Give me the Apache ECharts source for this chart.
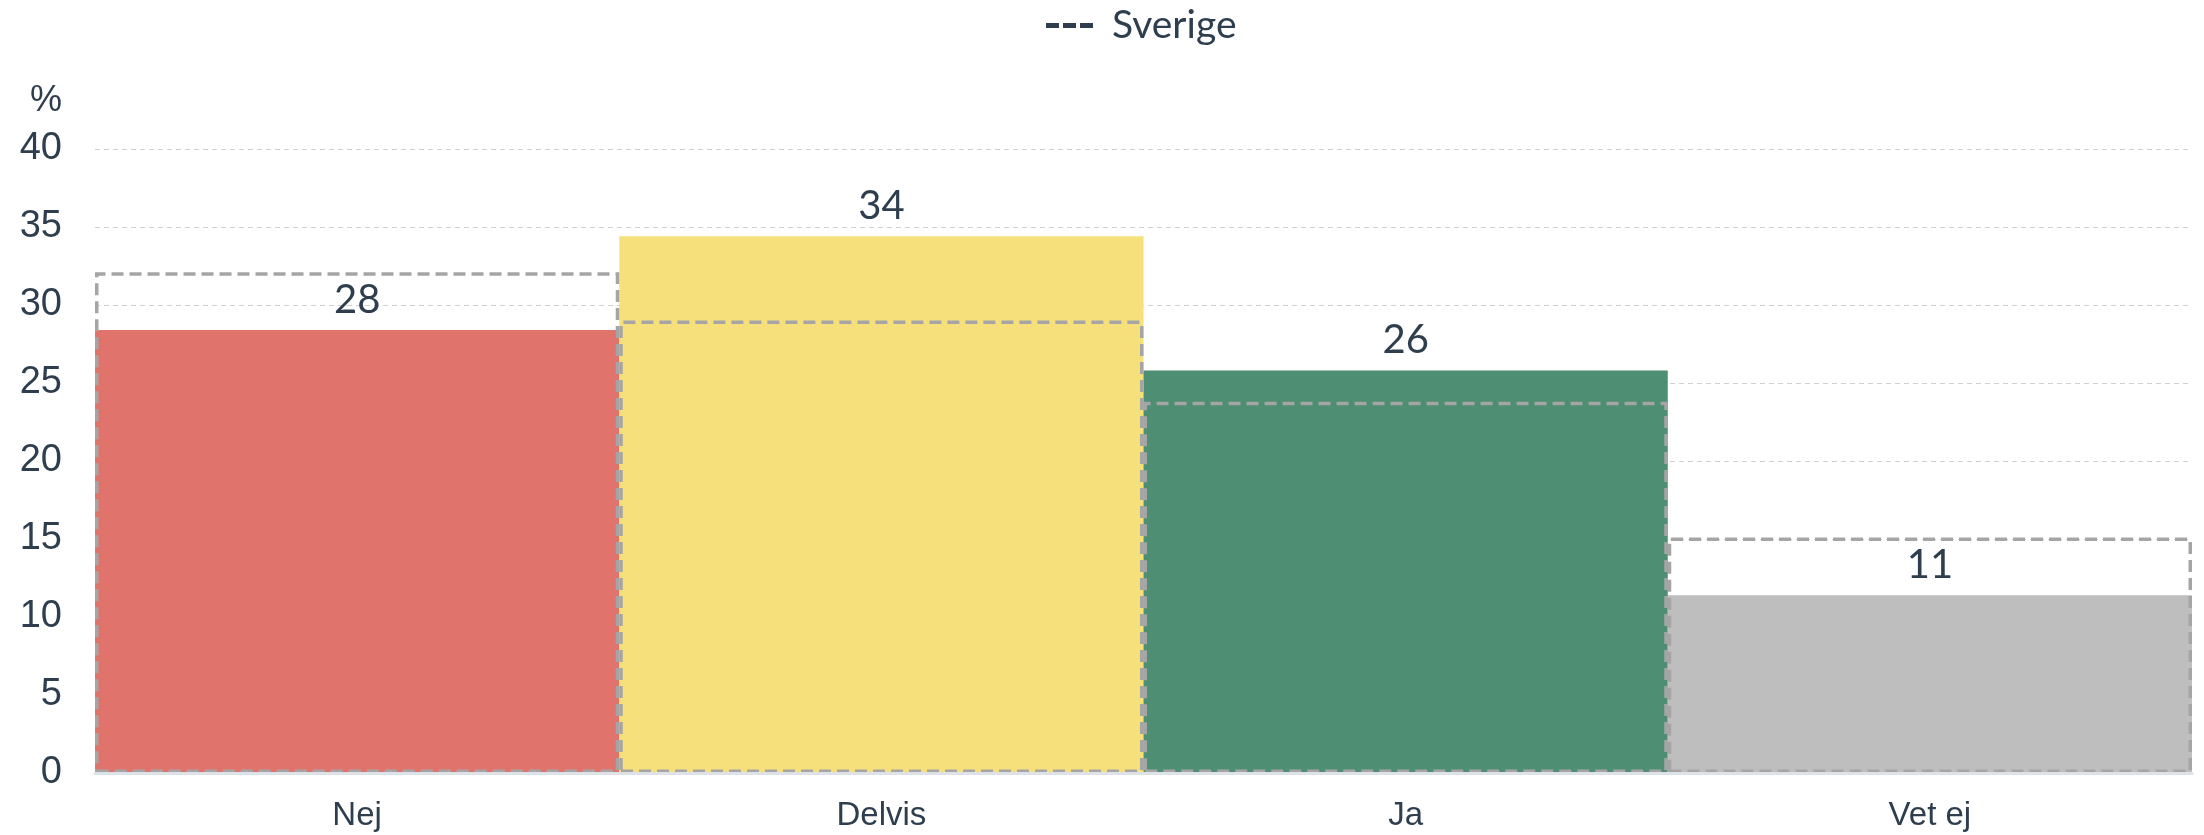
<!DOCTYPE html>
<html>
<head>
<meta charset="utf-8">
<script src="https://cdn.jsdelivr.net/npm/echarts@6/dist/echarts.min.js"></script>
<style>
  html, body { margin: 0; padding: 0; background: #fff; }
</style>
</head>
<body>
<!-- chart fills the whole window -->
<div id="chartBox" style="width: 2204px; height: 835px;"></div>
<script>
// data
const categories = ['Nej', 'Delvis', 'Ja', 'Vet ej'];
const values = [28.4, 34.4, 25.8, 11.4];
const sverige = [32.1, 29.0, 23.8, 15.1];
const barColors = ['#e0746d', '#f5e07b', '#4e8e72', '#bebebe'];
const yTicks = [0, 5, 10, 15, 20, 25, 30, 35, 40];

const textColor = '#2e3e4e';

const chart = echarts.init(document.getElementById('chartBox'));

const option = {
  animation: false,
  grid: {
    left: 95,
    right: 12,
    top: 149,
    bottom: 62
  },
  legend: {
    left: 1041,
    top: 1,
    itemWidth: 47,
    itemHeight: 5,
    itemGap: 20,
    textStyle: {
      color: textColor,
      fontSize: 39,
      fontFamily: 'Lato',
      padding: [0, 0, 0, 14]
    },
    data: [{
      name: 'Sverige',
      // three dashes, as in the reference
      icon: 'path://M0,0h13v5h-13z M17,0h13v5h-13z M34,0h13v5h-13z',
      itemStyle: { color: textColor, borderWidth: 0 }
    }]
  },
  xAxis: {
    type: 'category',
    data: categories,
    z: 5,                     // axis line drawn over the dashed bottoms
    axisTick: { show: false },
    axisLine: {
      lineStyle: { color: '#dce2e7', width: 3 }
    },
    axisLabel: {
      color: textColor,
      fontSize: 33,
      fontFamily: 'Liberation Sans',
      margin: 26
    }
  },
  yAxis: {
    type: 'value',
    min: yTicks[0],
    max: yTicks[yTicks.length - 1],
    interval: 5,
    name: '%',
    nameLocation: 'end',
    nameGap: 30,
    nameTextStyle: {
      color: textColor,
      fontSize: 36,
      fontFamily: 'Liberation Sans',
      align: 'right',
      padding: [0, 33, 0, 0]
    },
    axisLine: { show: false },
    axisTick: { show: false },
    axisLabel: {
      color: textColor,
      fontSize: 38,
      fontFamily: 'Liberation Sans',
      margin: 33
    },
    splitLine: {
      lineStyle: { color: '#d0d0d0', type: [5, 4], width: 1 }
    }
  },
  series: [
    {
      name: 'Andel',
      type: 'bar',
      barCategoryGap: '0%',
      data: values.map((v, i) => ({ value: v, itemStyle: { color: barColors[i] } })),
      label: {
        show: true,
        position: 'top',
        distance: 10,
        color: textColor,
        fontSize: 40,
        fontFamily: 'Lato',
        formatter: p => Math.round(p.value)
      }
    },
    {
      name: 'Sverige',
      type: 'bar',
      barGap: '-100%',
      barCategoryGap: '0%',
      z: 3,
      data: sverige,
      itemStyle: {
        color: 'rgba(0,0,0,0)',
        borderColor: '#a5a5a5',
        borderWidth: 3.5,
        borderType: [12, 6]
      }
    }
  ]
};

chart.setOption(option);
</script>
</body>
</html>
